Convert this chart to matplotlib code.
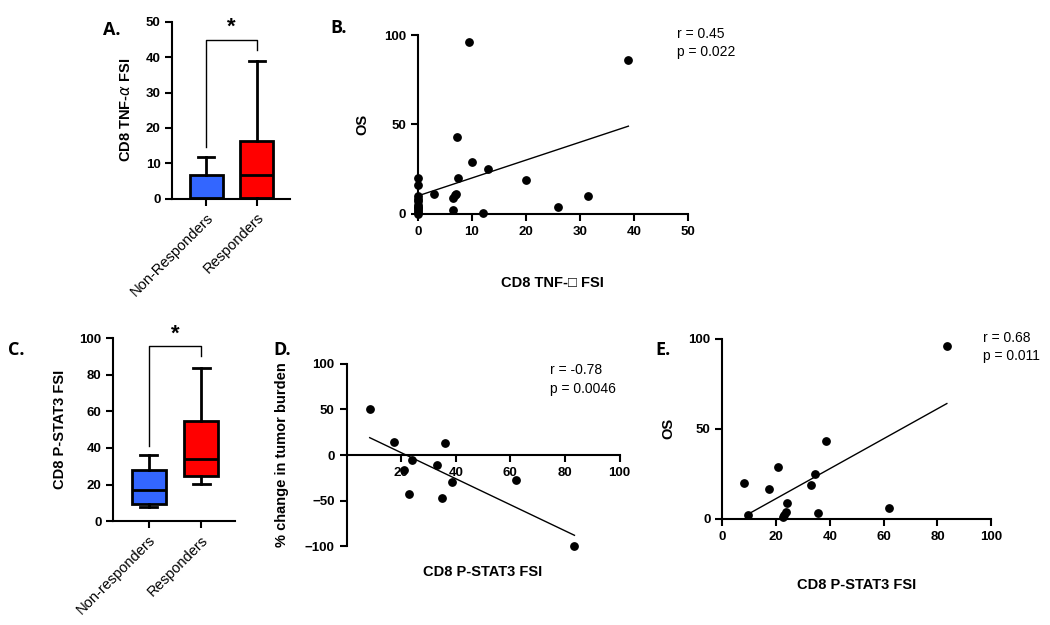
import numpy as np
import matplotlib
matplotlib.use("Agg")
import matplotlib.pyplot as plt

plt.rcParams['font.family'] = ['Liberation Sans', 'DejaVu Sans']

## Data
# A. CD8 TNF-a FSI box plot (whislo, q1, med, q3, whishi)
groups_a = ['Non-Responders', 'Responders']
stats_a = [[0, 0, 0.3, 6.6, 11.8],
           [0, 0.3, 6.8, 16.2, 39.0]]
colors_box = ['#3366FF', '#FF0000']

# B. OS vs CD8 TNF-a FSI
tnf_x = [0, 0, 0, 0, 0, 0, 0, 0, 0, 0, 0, 3, 6.5, 6.5, 6.8, 7.0, 7.3, 7.5, 9.5, 10, 12, 13, 20, 26, 31.5, 39]
tnf_os = [20, 16, 10, 8, 7, 5, 4, 3, 2, 1, 0, 11, 2, 9, 10.5, 11, 43, 20, 96, 29, 0.5, 25, 19, 3.5, 10, 86]
fit_b_x = [0, 39]
fit_b_y = [10, 49]

# C. CD8 P-STAT3 FSI box plot
groups_c = ['Non-responders', 'Responders']
stats_c = [[8, 9.5, 17, 28, 36],
           [20.5, 24.5, 34, 55, 83.5]]

# D. % change in tumor burden vs CD8 P-STAT3 FSI
pstat_d = [8.5, 17.5, 21, 24, 23, 33, 36, 35, 38.5, 62, 83.5]
burden_d = [50, 14, -16, -5, -43, -11, 13, -47, -30, -27, -100]
fit_d_x = [8.5, 83.5]
fit_d_y = [19, -88]

# E. OS vs CD8 P-STAT3 FSI
pstat_e = [8, 9.5, 17.5, 20.5, 22.5, 23, 23.5, 24, 33, 34.5, 35.5, 38.5, 62, 83.5]
os_e = [20, 2, 16.5, 29, 1, 2, 3.5, 9, 19, 25, 3, 43, 6, 96]
fit_e_x = [9.5, 83.5]
fit_e_y = [2.5, 64]

fig = plt.figure(figsize=(10.5, 6.25), dpi=100)

def style(ax):
    for s in ['top', 'right']:
        ax.spines[s].set_visible(False)
    for s in ['left', 'bottom']:
        ax.spines[s].set_linewidth(1.5)
    ax.tick_params(width=1.5, length=5, labelsize=9.5)
    for lab in ax.get_yticklabels() + ax.get_xticklabels():
        lab.set_fontweight('bold')

def boxpanel(ax, groups, stats, ylim, yticks, bracket, ylabel, ylx):
    bx = [dict(whislo=s[0], q1=s[1], med=s[2], q3=s[3], whishi=s[4], label=g)
          for s, g in zip(stats, groups)]
    res = ax.bxp(bx, positions=[0, 1], widths=0.65, showfliers=False, patch_artist=True,
                 boxprops=dict(linewidth=2), medianprops=dict(color='black', linewidth=2),
                 whiskerprops=dict(linewidth=2), capprops=dict(linewidth=2))
    for patch, c in zip(res['boxes'], colors_box):
        patch.set_facecolor(c)
    ax.set_xlim(-0.67, 1.65)
    ax.set_ylim(*ylim)
    ax.set_yticks(yticks)
    style(ax)
    ax.set_xticks([0, 1])
    ax.set_xticklabels(groups, rotation=45, ha='right', rotation_mode='anchor',
                       fontsize=10.5, fontweight='normal')
    y, l, r = bracket
    ax.plot([0, 0, 1, 1], [l, y, y, r], color='black', lw=1, clip_on=False)
    ax.text(0.5, y + (ylim[1] - ylim[0]) * 0.01, '*', ha='center', va='bottom',
            fontsize=16, fontweight='bold', clip_on=False)
    ax.set_ylabel(ylabel, fontsize=10.5, fontweight='bold')
    ax.yaxis.set_label_coords(ylx, 0.5)

## A
axA = fig.add_axes([0.164, 0.682, 0.112, 0.283])
boxpanel(axA, groups_a, stats_a, (0, 50), range(0, 51, 10), (45, 14.5, 42),
         'CD8 TNF-$\\alpha$ FSI', -0.33)

## C
axC = fig.add_axes([0.108, 0.166, 0.116, 0.293])
boxpanel(axC, groups_c, stats_c, (0, 100), range(0, 101, 20), (95.5, 41, 90),
         'CD8 P-STAT3 FSI', -0.38)

def scatpanel(ax, x, y, fx, fy):
    ax.scatter(x, y, s=28, color='black', zorder=3, clip_on=False)
    ax.plot(fx, fy, color='black', lw=1)
    style(ax)

## B
axB = fig.add_axes([0.398, 0.658, 0.257, 0.286])
scatpanel(axB, tnf_x, tnf_os, fit_b_x, fit_b_y)
axB.set_xlim(0, 50)
axB.set_ylim(0, 100)
axB.set_xticks(range(0, 51, 10))
axB.set_yticks([0, 50, 100])
style(axB)
axB.set_ylabel('OS', fontsize=10.5, fontweight='bold')
axB.yaxis.set_label_coords(-0.178, 0.5)
axB.set_xlabel('CD8 TNF-\u25a1 FSI', fontsize=10.5, fontweight='bold')
axB.xaxis.set_label_coords(0.5, -0.35)
fig.text(677 / 1050, 1 - 34 / 625, 'r = 0.45', fontsize=10, va='center')
fig.text(677 / 1050, 1 - 52 / 625, 'p = 0.022', fontsize=10, va='center')

## D
axD = fig.add_axes([0.330, 0.126, 0.260, 0.292])
scatpanel(axD, pstat_d, burden_d, fit_d_x, fit_d_y)
axD.set_xlim(0, 100)
axD.set_ylim(-100, 100)
axD.spines['bottom'].set_position(('data', 0))
axD.set_xticks([20, 40, 60, 80, 100])
axD.set_yticks([-100, -50, 0, 50, 100])
style(axD)
axD.set_ylabel('% change in tumor burden', fontsize=10.5, fontweight='bold')
axD.yaxis.set_label_coords(-0.21, 0.5)
axD.set_xlabel('CD8 P-STAT3 FSI', fontsize=10.5, fontweight='bold')
axD.xaxis.set_label_coords(0.5, -0.105)
fig.text(550 / 1050, 1 - 370 / 625, 'r = -0.78', fontsize=10, va='center')
fig.text(550 / 1050, 1 - 389 / 625, 'p = 0.0046', fontsize=10, va='center')

## E
axE = fig.add_axes([0.688, 0.170, 0.256, 0.288])
scatpanel(axE, pstat_e, os_e, fit_e_x, fit_e_y)
axE.set_xlim(0, 100)
axE.set_ylim(0, 100)
axE.set_xticks(range(0, 101, 20))
axE.set_yticks([0, 50, 100])
style(axE)
axE.set_ylabel('OS', fontsize=10.5, fontweight='bold')
axE.yaxis.set_label_coords(-0.175, 0.5)
axE.set_xlabel('CD8 P-STAT3 FSI', fontsize=10.5, fontweight='bold')
axE.xaxis.set_label_coords(0.5, -0.33)
fig.text(983 / 1050, 1 - 338 / 625, 'r = 0.68', fontsize=10, va='center')
fig.text(983 / 1050, 1 - 356 / 625, 'p = 0.011', fontsize=10, va='center')

## panel letters
for lbl, (px, py) in {'A.': (103, 30), 'B.': (330, 28), 'C.': (8, 350),
                      'D.': (273, 350), 'E.': (655, 350)}.items():
    fig.text(px / 1050, 1 - py / 625, lbl, fontsize=13, fontweight='bold',
             family=['Open Sans', 'DejaVu Sans'], va='center')

fig.savefig('out.png', dpi=100)
